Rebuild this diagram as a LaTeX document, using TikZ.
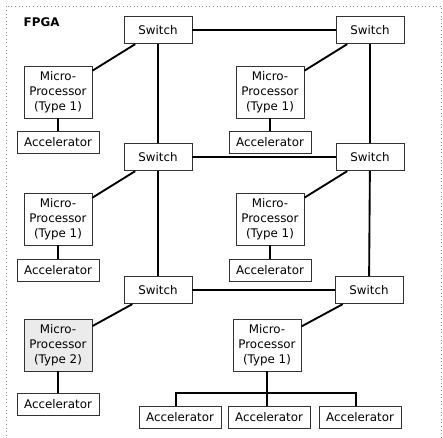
\documentclass[tikz,border=0pt]{standalone}
\usepackage{fontspec}
\setmainfont{DejaVu Sans}
\usepackage{tikz}
\usetikzlibrary{calc}

\begin{document}
\begin{tikzpicture}[x=0.75pt, y=-0.75pt,
		box/.style={draw=black!80, line width=0.7pt, align=center, inner sep=0pt,
			font=\fontsize{8.9}{11.2}\selectfont},
		switchbox/.style={box, minimum width=51pt, minimum height=20.5pt},
		cpubox/.style={box, minimum width=51pt, minimum height=39pt},
		accbox/.style={box, minimum width=61.5pt, minimum height=16.5pt},
		link/.style={line width=1.4pt, black}]
	\useasboundingbox (0,0) rectangle (443,438);
	\draw[black!45, dotted, line width=0.7pt] (6.5,6.5) rectangle (441.5,460);
	\node (fpgaLabel)[anchor=west, font=\fontsize{8.9}{10}\selectfont\bfseries] at (19,22) {FPGA};
	
	\pgfmathsetmacro\xSwL{158}
	\pgfmathsetmacro\xSwR{370}
	\pgfmathsetmacro\xCpuL{58}
	\pgfmathsetmacro\xCpuR{270}
	
	% switches
	\node (swA)[switchbox] at (\xSwL, 30) {Switch};
	\node (swB)[switchbox] at (\xSwR, 30) {Switch};
	\node (swC)[switchbox] at (\xSwL, 157) {Switch};
	\node (swD)[switchbox] at (\xSwR, 157) {Switch};
	\node (swE)[switchbox] at (\xSwL, 290) {Switch};
	\node (swF)[switchbox] at (\xSwR - 1, 290) {Switch};
	
	% processors
	\node (cpuA)[cpubox] at (\xCpuL, 92) {Micro-\\Processor\\(Type 1)};
	\node (cpuB)[cpubox] at (\xCpuR, 92) {Micro-\\Processor\\(Type 1)};
	\node (cpuC)[cpubox] at (\xCpuL, 219) {Micro-\\Processor\\(Type 1)};
	\node (cpuD)[cpubox] at (\xCpuR, 219) {Micro-\\Processor\\(Type 1)};
	\node (cpuE)[cpubox, fill=black!8] at (\xCpuL, 345) {Micro-\\Processor\\(Type 2)};
	\node (cpuF)[cpubox] at (\xCpuR - 3, 345) {Micro-\\Processor\\(Type 1)};
	
	% accelerators
	\node (accA)[accbox] at (\xCpuL, 142) {Accelerator};
	\node (accB)[accbox] at (\xCpuR, 142) {Accelerator};
	\node (accC)[accbox] at (\xCpuL, 270) {Accelerator};
	\node (accD)[accbox] at (\xCpuR, 270) {Accelerator};
	\node (accE)[accbox] at (\xCpuL, 404) {Accelerator};
	\node (accF)[accbox] at (180, 417) {Accelerator};
	\node (accG)[accbox] at (269, 417) {Accelerator};
	\node (accH)[accbox] at (360, 417) {Accelerator};
	
	% switch grid
	\draw[link] (swA) -- (swB);
	\draw[link] (swC) -- (swD);
	\draw[link] (swE) -- (swF);
	\draw[link] (swA) -- (swC);
	\draw[link] (swC) -- (swE);
	\draw[link] (swB) -- (swD);
	\draw[link] (swD) -- (swF);
	
	% processors to switches
	\draw[link] (cpuA) -- (swA);
	\draw[link] (cpuB) -- (swB);
	\draw[link] (cpuC) -- (swC);
	\draw[link] (cpuD) -- (swD);
	\draw[link] (cpuE) -- (swE);
	\draw[link] (cpuF) -- (swF);
	
	% processors to accelerators
	\draw[link] (cpuA) -- (accA);
	\draw[link] (cpuB) -- (accB);
	\draw[link] (cpuC) -- (accC);
	\draw[link] (cpuD) -- (accD);
	\draw[link] (cpuE) -- (accE);
	
	\coordinate (bus) at (\xCpuR - 3, 393);
	\draw[link] (cpuF) -- (bus);
	\draw[link] ($(accF.north) + (-4, 0)$) |- (bus) -| ($(accH.north) + (-4, 0)$);
	\draw[link] (bus) -- (bus |- accG.north);
\end{tikzpicture}
\end{document}
